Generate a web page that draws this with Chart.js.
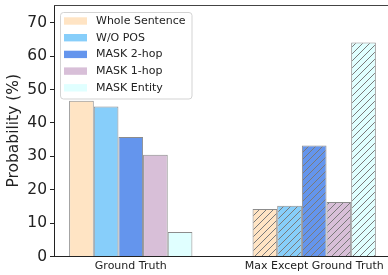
<!DOCTYPE html>
<html>
<head>
<meta charset="utf-8">
<script src="https://cdn.jsdelivr.net/npm/chart.js@4"></script>
<style>
  html, body { margin: 0; padding: 0; background: #fff; overflow: hidden; }
</style>
</head>
<body>
<canvas id="chart" width="392" height="275"></canvas>
<script>
const categories = ["Ground Truth", "Max Except Ground Truth"];
const seriesNames = ["Whole Sentence", "W/O POS", "MASK 2-hop", "MASK 1-hop", "MASK Entity"];
const wholeSentence = [46.6, 14.2];
const withoutPos = [44.9, 15.2];
const mask2hop = [35.8, 33.2];
const mask1hop = [30.5, 16.3];
const maskEntity = [7.3, 64.1];
const yTicks = [0, 10, 20, 30, 40, 50, 60, 70];

const colors = ["#FFE4C4", "#87CEFA", "#6495ED", "#D8BFD8", "#E0FFFF"];
const edge = "#8c8c8c";
const ink = "#222";

// '///' hatch like matplotlib, drawn on the bar colour
function hatch(color) {
  const n = 7;
  const c = document.createElement("canvas");
  c.width = n;
  c.height = n;
  const g = c.getContext("2d");
  g.fillStyle = color;
  g.fillRect(0, 0, n, n);
  g.strokeStyle = "#7a7a7a";
  g.lineWidth = 1;
  g.beginPath();
  g.moveTo(-1, n + 1); g.lineTo(n + 1, -1);
  g.moveTo(-1, 1); g.lineTo(1, -1);
  g.moveTo(n - 1, n + 1); g.lineTo(n + 1, n - 1);
  g.stroke();
  return g.createPattern(c, "repeat");
}

const series = [wholeSentence, withoutPos, mask2hop, mask1hop, maskEntity];
const datasets = series.map((vals, k) => ({
  label: seriesNames[k],
  data: vals.map((v, i) => ({ x: i, y: v })),
  backgroundColor: [colors[k], hatch(colors[k])],
  borderColor: edge,
  borderWidth: 1,
  barPercentage: 1,
  categoryPercentage: 0.672,
}));

// legend box in the upper left, like matplotlib's
const boxLegend = {
  id: "boxLegend",
  afterDraw(chart) {
    const ctx = chart.ctx;
    ctx.save();
    ctx.beginPath();
    ctx.roundRect(60.5, 12.5, 131.5, 86.5, 3);
    ctx.fillStyle = "rgba(255,255,255,0.8)";
    ctx.fill();
    ctx.strokeStyle = "#d3d3d3";
    ctx.lineWidth = 1;
    ctx.stroke();
    ctx.font = "11px 'DejaVu Sans'";
    ctx.textBaseline = "middle";
    seriesNames.forEach((name, k) => {
      const y = 21 + k * 16.7;
      ctx.fillStyle = colors[k];
      ctx.fillRect(64, y - 3.7, 23, 7.4);
      ctx.fillStyle = ink;
      ctx.fillText(name, 96, y);
    });
    ctx.restore();
  },
};

// top and right spines
const frame = {
  id: "frame",
  afterDatasetsDraw(chart) {
    const { ctx, chartArea: a } = chart;
    ctx.save();
    ctx.strokeStyle = "#444";
    ctx.lineWidth = 1;
    ctx.beginPath();
    ctx.moveTo(a.left, Math.round(a.top) + 0.5);
    ctx.lineTo(a.right - 0.5, Math.round(a.top) + 0.5);
    ctx.lineTo(a.right - 0.5, a.bottom);
    ctx.stroke();
    ctx.restore();
  },
};

new Chart(document.getElementById("chart"), {
  type: "bar",
  data: { datasets },
  plugins: [frame, boxLegend],
  options: {
    responsive: false,
    animation: false,
    layout: { padding: { top: 5, left: 0, right: 0, bottom: 0 } },
    plugins: { legend: { display: false }, tooltip: { enabled: false } },
    scales: {
      x: {
        type: "linear",
        min: -0.4184,
        max: 1.4241,
        offset: false,
        grid: { display: false, drawTicks: false, offset: false },
        border: { color: ink, width: 1 },
        afterBuildTicks: (s) => { s.ticks = categories.map((_, i) => ({ value: i })); },
        afterFit: (s) => { s.height = 18.5; s.paddingLeft = 0; s.paddingRight = 0; },
        ticks: {
          padding: 3,
          color: ink,
          font: { family: "DejaVu Sans", size: 11 },
          maxRotation: 0,
          autoSkip: false,
          callback: (v) => categories[v] ?? "",
        },
      },
      y: {
        min: 0,
        max: 75.3,
        grid: { drawOnChartArea: false, tickLength: 4, color: ink },
        border: { color: ink, width: 1 },
        afterBuildTicks: (s) => { s.ticks = yTicks.map((v) => ({ value: v })); },
        afterFit: (s) => { s.width = 54; s.paddingTop = 0; s.paddingBottom = 0; },
        ticks: {
          padding: 3,
          color: ink,
          font: { family: "DejaVu Sans", size: 15.5 },
        },
        title: {
          display: true,
          text: "Probability (%)",
          color: ink,
          font: { family: "DejaVu Sans", size: 15.5 },
          padding: { top: 5, bottom: 0 },
        },
      },
    },
  },
});
</script>
</body>
</html>
